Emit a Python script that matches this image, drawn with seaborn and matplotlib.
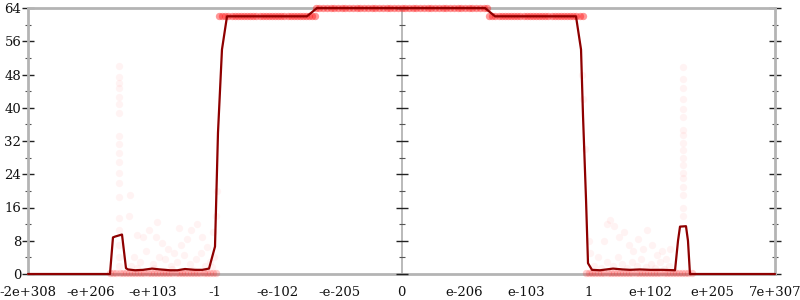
import matplotlib
matplotlib.use("Agg")
import matplotlib.pyplot as plt
import pandas as pd
import seaborn as sns

# ---------------- data ----------------
tick_labels = ["-2e+308", "-e+206", "-e+103", "-1", "-e-102", "-e-205", "0",
               "e-206", "e-103", "1", "e+102", "e+205", "7e+307"]
y_ticks = [0, 8, 16, 24, 32, 40, 48, 56, 64]
y_minor = [4, 12, 20, 28, 36, 44, 52, 60]

# averaged error line (x in ordinal tick units)
line_x = [0.0, 1.317, 1.365, 1.398, 1.510, 1.574, 1.606, 1.719, 1.85, 1.992, 2.12,
          2.281, 2.40, 2.522, 2.683, 2.80, 2.908, 3.004, 3.052, 3.116, 3.197, 4.482,
          4.643, 7.341, 7.502, 8.803, 8.884, 8.916, 8.964, 8.996, 9.060, 9.189, 9.398,
          9.55, 9.671, 9.83, 9.992, 10.20, 10.394, 10.442, 10.474, 10.570, 10.602,
          10.634, 12.0]
line_y = [0.0, 0.0, 8.8, 9.0, 9.5, 1.4, 1.1, 0.9, 1.0, 1.3, 1.1,
          0.9, 0.9, 1.2, 1.0, 1.0, 1.3, 6.6, 34.0, 54.0, 62.0, 62.0,
          64.0, 64.0, 62.0, 62.0, 54.0, 38.0, 18.0, 2.6, 1.0, 0.9, 1.3,
          1.1, 1.0, 1.1, 1.0, 1.0, 0.9, 8.0, 11.4, 11.5, 8.0,
          0.0, 0.0]

# dense sample bands
band62_left_x = [3.07, 3.12, 3.17, 3.22, 3.27, 3.32, 3.37, 3.42, 3.47, 3.52, 3.57, 3.62,
                 3.67, 3.72, 3.77, 3.82, 3.87, 3.92, 3.97, 4.02, 4.07, 4.12, 4.17, 4.22,
                 4.27, 4.32, 4.37, 4.42, 4.47, 4.52, 4.57, 4.61]
band64_x = [4.62, 4.68, 4.74, 4.80, 4.86, 4.92, 4.98, 5.04, 5.10, 5.16, 5.22, 5.28,
            5.34, 5.40, 5.46, 5.52, 5.58, 5.64, 5.70, 5.76, 5.82, 5.88, 5.94, 6.00,
            6.06, 6.12, 6.18, 6.24, 6.30, 6.36, 6.42, 6.48, 6.54, 6.60, 6.66, 6.72,
            6.78, 6.84, 6.90, 6.96, 7.02, 7.08, 7.14, 7.20, 7.26, 7.32, 7.38]
band62_right_x = [7.41, 7.46, 7.51, 7.56, 7.61, 7.66, 7.71, 7.76, 7.81, 7.86, 7.91,
                  7.96, 8.01, 8.06, 8.11, 8.16, 8.21, 8.26, 8.31, 8.36, 8.41, 8.46,
                  8.51, 8.56, 8.61, 8.66, 8.71, 8.76, 8.81, 8.86, 8.91]
band0_x = [1.32, 1.37, 1.42, 1.47, 1.52, 1.57, 1.62, 1.67, 1.72, 1.77, 1.82, 1.87,
           1.92, 1.97, 2.02, 2.07, 2.12, 2.17, 2.22, 2.27, 2.32, 2.37, 2.42, 2.47,
           2.52, 2.57, 2.62, 2.67, 2.72, 2.77, 2.82, 2.87, 2.92, 2.97, 3.02,
           8.96, 9.01, 9.06, 9.11, 9.16, 9.21, 9.26, 9.31, 9.36, 9.41, 9.46, 9.51,
           9.56, 9.61, 9.66, 9.71, 9.76, 9.81, 9.86, 9.91, 9.96, 10.01, 10.06, 10.11,
           10.16, 10.21, 10.26, 10.31, 10.36, 10.41, 10.46, 10.51, 10.56, 10.61, 10.66]

# scattered individual samples
spread_x = [1.46, 1.46, 1.46, 1.46, 1.46, 1.46, 1.46, 1.46, 1.46, 1.46, 1.46, 1.46,
            1.46, 1.46, 1.46, 1.46, 1.46, 1.46, 1.46,
            1.62, 1.75, 1.85, 1.95, 2.05, 2.15, 2.25, 2.35, 2.45, 2.55, 2.62, 2.72,
            2.80, 2.88, 1.70, 1.80, 1.90, 2.00, 2.10, 2.20, 2.30, 2.40, 2.50, 2.60,
            2.70, 2.78, 2.85, 2.92, 1.65, 1.75, 1.88, 2.02, 2.18, 2.32, 2.48, 2.65,
            2.82, 2.95, 2.97, 2.99, 3.02, 3.04, 1.64, 2.08, 2.42,
            10.52, 10.52, 10.52, 10.52, 10.52, 10.52, 10.52, 10.52, 10.52, 10.52,
            10.52, 10.52, 10.52, 10.52, 10.52, 10.52, 10.52, 10.52,
            9.15, 9.25, 9.35, 9.42, 9.50, 9.58, 9.65, 9.72, 9.80, 9.88, 9.95, 10.02,
            10.10, 10.18, 10.25, 10.32, 9.10, 9.20, 9.30, 9.40, 9.48, 9.55, 9.62,
            9.70, 9.78, 9.85, 9.92, 10.00, 10.08, 10.15, 10.22, 10.30, 10.38, 9.05,
            9.03, 9.02, 8.90, 8.92, 8.95, 9.30]
spread_y = [50.0, 47.5, 46.0, 44.7, 42.7, 41.0, 38.7, 33.2, 31.3, 29.0, 27.0, 24.3,
            21.9, 18.6, 13.5, 10.6, 7.0, 4.0, 2.0,
            14.0, 9.5, 8.8, 10.5, 9.0, 7.5, 6.0, 5.0, 7.0, 8.5, 10.5, 12.0,
            9.0, 6.5, 4.0, 3.0, 5.5, 2.5, 4.0, 3.5, 2.0, 3.0, 4.5, 2.5,
            3.5, 5.0, 2.0, 3.0, 2.0, 1.5, 0.8, 1.5, 0.8, 1.2, 0.5, 1.0,
            0.6, 1.8, 10.0, 4.0, 14.0, 20.0, 19.0, 12.5, 11.0,
            49.9, 47.0, 44.7, 42.0, 39.6, 37.7, 34.6, 33.4, 31.4, 29.8,
            28.0, 26.2, 24.3, 23.0, 21.0, 19.0, 16.0, 14.0,
            4.0, 8.0, 13.0, 11.5, 9.0, 10.0, 7.0, 5.5, 8.5, 6.0, 10.5, 7.0,
            4.5, 5.5, 3.5, 6.0, 2.0, 1.5, 3.0, 2.0, 4.0, 2.5, 1.5,
            3.0, 2.0, 3.5, 1.8, 2.5, 1.5, 2.8, 1.2, 2.0, 0.8, 0.5,
            5.0, 8.0, 48.0, 42.0, 30.0, 12.0]

# ---------------- plotting ----------------
sns.set_theme(style="white")
plt.rcParams["font.family"] = ["DejaVu Serif"]

fig = plt.figure(figsize=(8, 3), dpi=100)
ax = fig.add_axes([28 / 800, 26 / 300, 747 / 800, 266 / 300])

spread_df = pd.DataFrame({"x": spread_x, "y": spread_y})
band_df = pd.DataFrame({
    "x": band62_left_x + band64_x + band62_right_x,
    "y": [62.0] * len(band62_left_x) + [64.0] * len(band64_x) + [62.0] * len(band62_right_x),
})
band0_df = pd.DataFrame({"x": band0_x, "y": [0.3] * len(band0_x)})
line_df = pd.DataFrame({"x": line_x, "y": line_y})

sns.scatterplot(data=spread_df, x="x", y="y", ax=ax, color="#ff2020", alpha=0.05,
                s=28, linewidth=0, zorder=2, clip_on=False)
sns.scatterplot(data=band0_df, x="x", y="y", ax=ax, color="#ff2020", alpha=0.22,
                s=28, linewidth=0, zorder=2, clip_on=False)
sns.scatterplot(data=band_df, x="x", y="y", ax=ax, color="#ff1a1a", alpha=0.45,
                s=28, linewidth=0, zorder=2, clip_on=False)
sns.lineplot(data=line_df, x="x", y="y", ax=ax, color="#8e0000", lw=1.6,
             estimator=None, sort=False, zorder=4, clip_on=False)

ax.set_xlim(0, 12)
ax.set_ylim(0, 64)
ax.set_xlabel("")
ax.set_ylabel("")

grey = "#b4b4b4"
for side in ["left", "right", "top", "bottom"]:
    ax.spines[side].set_visible(True)
    ax.spines[side].set_color(grey)
    ax.spines[side].set_linewidth(2)
    ax.spines[side].set_zorder(1)

ax.set_xticks(range(len(tick_labels)))
ax.set_xticklabels(tick_labels)
ax.set_yticks(y_ticks)
ax.set_yticks(y_minor, minor=True)

ax.tick_params(axis="x", which="major", direction="inout", length=8.6, width=1,
               color="#333333", labelsize=9.5, pad=4, labelcolor="#111111")
ax.tick_params(axis="y", which="major", direction="inout", length=8.6, width=1,
               color="#222222", labelsize=9.5, pad=0.5, left=True, right=True,
               labelright=False, labelcolor="#111111")
ax.tick_params(axis="y", which="minor", direction="inout", length=4.3, width=0.8,
               color="#555555", left=True, right=True)

# middle axis at zero
ax.axvline(6, color=grey, lw=1.3, zorder=1)
ax.plot([6] * len(y_ticks), y_ticks, ls="none", marker="_", ms=8.6, mew=1,
        color="#222222", zorder=3, clip_on=False)
ax.plot([6] * len(y_minor), y_minor, ls="none", marker="_", ms=4.3, mew=0.8,
        color="#555555", zorder=3)

fig.savefig("out.png", dpi=100)
